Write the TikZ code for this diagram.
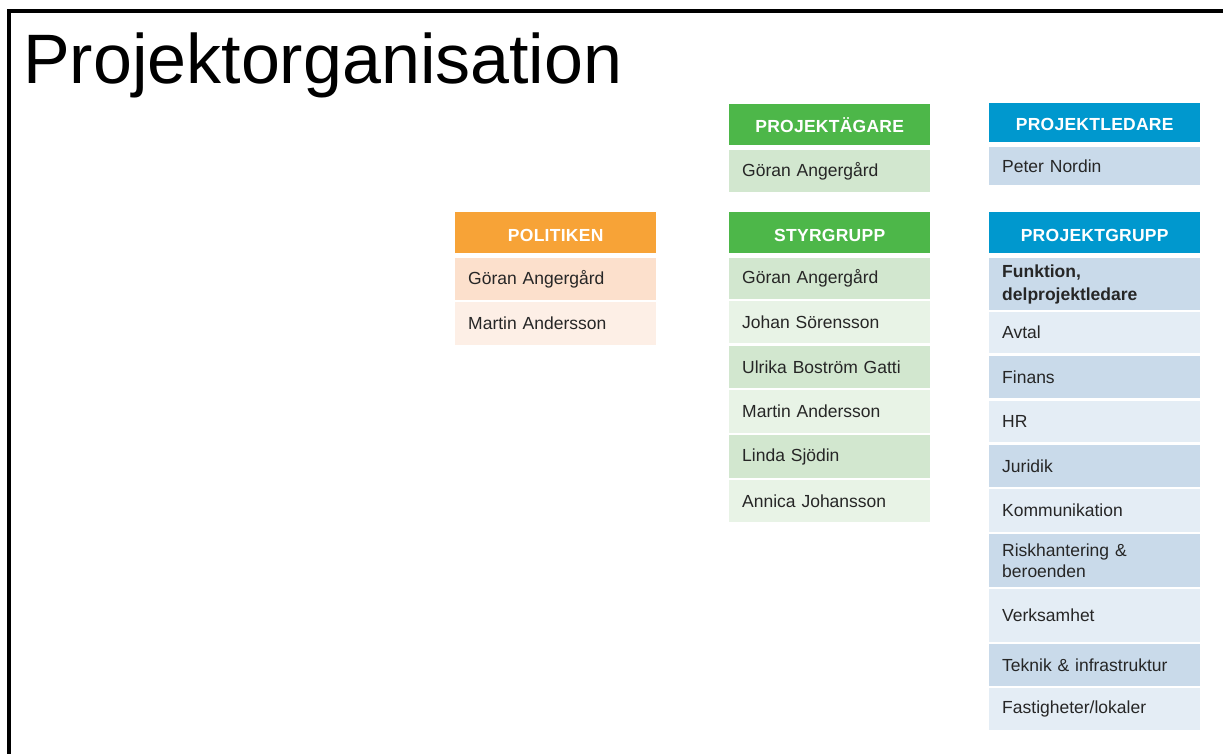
\documentclass[tikz,border=0pt]{standalone}
\usepackage{fontspec}
\setmainfont{Liberation Sans}
\definecolor{orgH}{HTML}{F7A337}
\definecolor{orgA}{HTML}{FCE0CC}
\definecolor{orgB}{HTML}{FDEFE6}
\definecolor{grnH}{HTML}{4DB749}
\definecolor{grnA}{HTML}{D2E7CF}
\definecolor{grnB}{HTML}{E8F3E6}
\definecolor{bluH}{HTML}{0098CE}
\definecolor{bluA}{HTML}{C9DAEA}
\definecolor{bluB}{HTML}{E4EDF5}
\definecolor{txtd}{HTML}{262626}
\begin{document}
\begin{tikzpicture}[x=1pt,y=-1pt,
  hdr/.style={anchor=north west, font=\fontsize{17.5}{20}\selectfont\bfseries\addfontfeatures{LetterSpace=1.5}, text=white, inner sep=0pt, align=center, text depth=0pt, text height=16.6pt},
  cell/.style={anchor=north west, font=\fontsize{17.5}{21}\selectfont, text=txtd, inner xsep=13pt, inner ysep=0pt, align=left},
  colA/.style={text width=175pt},
  colB/.style={text width=185pt}]
\useasboundingbox (0,0) rectangle (1223,754);
\fill[black] (7,9) rectangle (11,754);
\fill[black] (7,9) rectangle (1223,13);
\node[anchor=base west, inner sep=0pt, font=\fontsize{70}{80}\selectfont] (title) at (23,84) {Projektorganisation};
% Politiken
\node[hdr, fill=orgH, minimum width=201pt, minimum height=41pt] (pol) at (455,212) {POLITIKEN};
\node[cell, colA, fill=orgA, minimum height=42pt] (pol1) at (455,258) {Göran Angergård};
\node[cell, colA, fill=orgB, minimum height=43pt] (pol2) at (455,302) {Martin Andersson};
% Projektägare
\node[hdr, fill=grnH, minimum width=201pt, minimum height=41pt] (pag) at (729,104) {PROJEKTÄGARE};
\node[cell, colA, fill=grnA, minimum height=42pt] (pag1) at (729,150) {Göran Angergård};
% Styrgrupp
\node[hdr, fill=grnH, minimum width=201pt, minimum height=41pt] (sty) at (729,212) {STYRGRUPP};
\node[cell, colA, fill=grnA, minimum height=41pt] (sty1) at (729,258) {Göran Angergård};
\node[cell, colA, fill=grnB, minimum height=42pt] (sty2) at (729,301) {Johan Sörensson};
\node[cell, colA, fill=grnA, minimum height=42pt] (sty3) at (729,346) {Ulrika Boström Gatti};
\node[cell, colA, fill=grnB, minimum height=43pt] (sty4) at (729,390) {Martin Andersson};
\node[cell, colA, fill=grnA, minimum height=43pt] (sty5) at (729,435) {Linda Sjödin};
\node[cell, colA, fill=grnB, minimum height=42pt] (sty6) at (729,480) {Annica Johansson};
% Projektledare
\node[hdr, fill=bluH, minimum width=211pt, minimum height=39pt] (pl) at (989,103) {PROJEKTLEDARE};
\node[cell, colB, fill=bluA, minimum height=38pt] (pl1) at (989,147) {Peter Nordin};
% Projektgrupp
\node[hdr, fill=bluH, minimum width=211pt, minimum height=41pt] (pg) at (989,212) {PROJEKTGRUPP};
\node[cell, colB, fill=bluA, minimum height=52pt, font=\fontsize{17.5}{23}\selectfont\bfseries] (pg1) at (989,258) {Funktion,\\delprojektledare};
\node[cell, colB, fill=bluB, minimum height=41pt] (pg2) at (989,312) {Avtal};
\node[cell, colB, fill=bluA, minimum height=42pt] (pg3) at (989,356) {Finans};
\node[cell, colB, fill=bluB, minimum height=41pt] (pg4) at (989,401) {HR};
\node[cell, colB, fill=bluA, minimum height=42pt] (pg5) at (989,445) {Juridik};
\node[cell, colB, fill=bluB, minimum height=43pt] (pg6) at (989,489) {Kommunikation};
\node[cell, colB, fill=bluA, minimum height=53pt] (pg7) at (989,534) {Riskhantering \&\\beroenden};
\node[cell, colB, fill=bluB, minimum height=53pt] (pg8) at (989,589) {Verksamhet};
\node[cell, colB, fill=bluA, minimum height=42pt] (pg9) at (989,644) {Teknik \& infrastruktur};
\node[cell, colB, fill=bluB, minimum height=42pt] (pg10) at (989,688) {Fastigheter/lokaler};
\end{tikzpicture}
\end{document}
